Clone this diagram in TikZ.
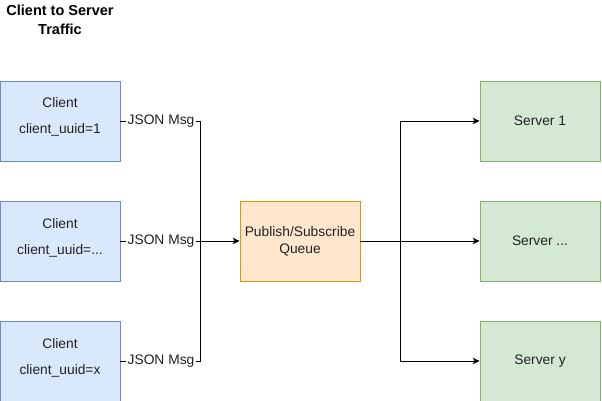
\documentclass[tikz,border=0pt]{standalone}
\usepackage{fontspec}
\setmainfont{Liberation Sans}
\usetikzlibrary{arrows.meta, positioning}

\definecolor{clientfill}{HTML}{DAE8FC}
\definecolor{clientline}{HTML}{6C8EBF}
\definecolor{queuefill}{HTML}{FFE6CC}
\definecolor{queueline}{HTML}{D79B00}
\definecolor{serverfill}{HTML}{D5E8D4}
\definecolor{serverline}{HTML}{82B366}
\definecolor{textgray}{HTML}{222222}

\begin{document}
\begin{tikzpicture}[x=1pt, y=-1pt, >={Stealth[length=7pt, width=6.5pt, inset=2pt]},
	font=\fontsize{13.8}{17}\selectfont, text=textgray]
				\tikzstyle{box} = [draw, minimum width=120pt, minimum height=80pt, align=center, inner sep=0pt, line width=0.8pt]
				\tikzstyle{client} = [box, fill=clientfill, draw=clientline]
				\tikzstyle{queue} = [box, fill=queuefill, draw=queueline]
				\tikzstyle{server} = [box, fill=serverfill, draw=serverline]
				\tikzstyle{msg} = [fill=white, inner sep=1pt]
				\tikzstyle{link} = [line width=0.8pt]
				
				\useasboundingbox (0, 0) rectangle (602, 401);
				
				\node[align=center, text=black, font=\fontsize{14.5}{19}\selectfont\bfseries] at (60, 20) (title) {Client to Server\\Traffic};
				
				\node[client] 	at (60, 121) 	(c1) 	{Client\\[9pt]client\_uuid=1\\[-7pt]\mbox{}};
				\node[client] 	at (60, 241) 	(c2) 	{Client\\[9pt]client\_uuid=...\\[-7pt]\mbox{}};
				\node[client] 	at (60, 361) 	(c3) 	{Client\\[9pt]client\_uuid=x\\[-7pt]\mbox{}};
				
				\node[queue] 	at (300, 241) 	(q) 	{Publish/Subscribe\\Queue};
				
				\node[server] 	at (540, 121) 	(s1) 	{Server 1};
				\node[server] 	at (540, 241) 	(s2) 	{Server ...};
				\node[server] 	at (540, 361) 	(s3) 	{Server y};
				
				\node[msg] 	at (161, 121) 	(m1) 	{JSON Msg};
				\node[msg] 	at (161, 241) 	(m2) 	{JSON Msg};
				\node[msg] 	at (161, 361) 	(m3) 	{JSON Msg};
				
				\coordinate (join) at (200, 241);
				\coordinate (fork) at (400, 241);
				
				% clients to queue
				\draw[link] (c1) -- (m1) -| (join);
				\draw[link] (c3) -- (m3) -| (join);
				\draw[link] (c2) -- (m2);
				\draw[link, ->] (m2) -- (q);
				
				% queue to servers
				\draw[link] (q) -- (fork);
				\draw[link, ->] (fork) |- (s1);
				\draw[link, ->] (fork) -- (s2);
				\draw[link, ->] (fork) |- (s3);
\end{tikzpicture}
\end{document}
